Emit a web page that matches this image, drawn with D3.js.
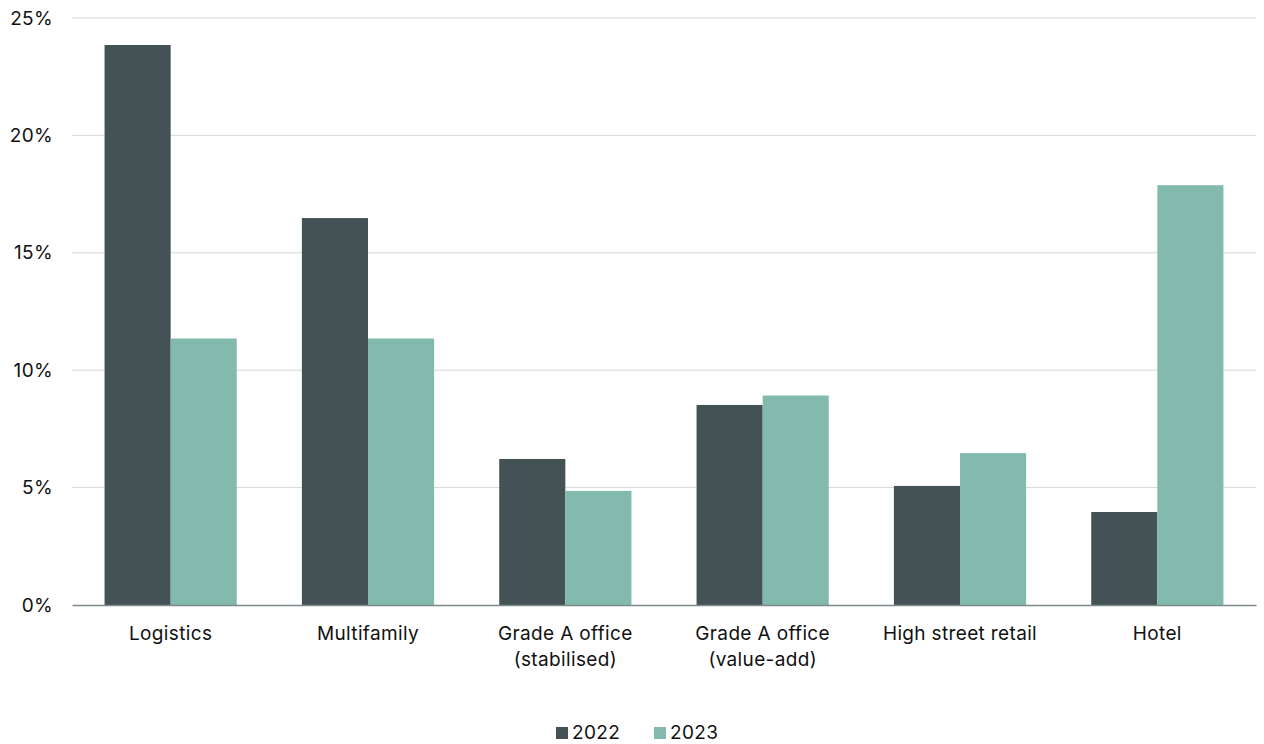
<!DOCTYPE html>
<html><head><meta charset="utf-8">
<script src="https://cdn.jsdelivr.net/npm/d3@7"></script>
<style>
html,body{margin:0;padding:0;background:#fff;}
svg{display:block;font-family:Inter,"Open Sans",sans-serif;}
</style></head>
<body>
<svg id="chart" width="1264" height="744"></svg>
<script>
const categories = [["Logistics"],["Multifamily"],["Grade A office","(stabilised)"],["Grade A office","(value-add)"],["High street retail"],["Hotel"]];
const series = ["2022","2023"];
const values2022 = [23.85, 16.48, 6.22, 8.52, 5.07, 3.96];
const values2023 = [11.35, 11.35, 4.86, 8.92, 6.47, 17.88];
const yTicks = [0,5,10,15,20,25];
const colors = ["#445256","#82bbad"];

const svg = d3.select("#chart");
const m = {left:72, right:1256, top:18, bottom:605};
const keys = categories.map(c=>c.join(" "));
const x = d3.scaleBand().domain(keys).range([m.left,m.right]).paddingInner(0.33).paddingOuter(0.165);
const x1 = d3.scaleBand().domain(series).range([0,x.bandwidth()]);
const y = d3.scaleLinear().domain([0,25]).range([m.bottom,m.top]);
const FS = "19px", LS = "0.35px";

// gridlines
svg.append("g").selectAll("line").data(yTicks.filter(d=>d>0)).join("line")
  .attr("x1",m.left).attr("x2",m.right)
  .attr("y1",d=>y(d)).attr("y2",d=>y(d))
  .attr("stroke","#d3d9da").attr("stroke-width",1);

// y labels
const ya = svg.append("g").attr("transform",`translate(${m.left},0)`)
  .call(d3.axisLeft(y).tickValues(yTicks).tickFormat(d=>d+"%").tickSize(0).tickPadding(19));
ya.select(".domain").remove();
ya.selectAll("text").attr("font-size",FS).attr("letter-spacing",LS).attr("fill","#111").attr("font-family","Inter,sans-serif");

// bars
const data = categories.map((c,i)=>({key:keys[i], vals:[values2022[i],values2023[i]]}));
const g = svg.append("g").selectAll("g").data(data).join("g")
  .attr("transform",d=>`translate(${x(d.key)},0)`);
g.selectAll("rect").data(d=>d.vals.map((v,j)=>({s:series[j],v,j}))).join("rect")
  .attr("x",d=>x1(d.s)).attr("width",x1.bandwidth())
  .attr("y",d=>y(d.v)).attr("height",d=>y(0)-y(d.v))
  .attr("fill",d=>colors[d.j]);

// x axis
const xa = svg.append("g").attr("transform",`translate(0,${m.bottom})`)
  .call(d3.axisBottom(x).tickSize(0).tickFormat(""));
xa.select(".domain").attr("stroke","#7d8a8c").attr("stroke-width",1.5);
xa.selectAll(".tick").each(function(d,i){
  const t = d3.select(this).append("text").attr("fill","#111").attr("font-size",FS)
    .attr("letter-spacing",LS).attr("text-anchor","middle").attr("font-family","Inter,sans-serif");
  categories[i].forEach((line,k)=>{
    t.append("tspan").attr("x",0).attr("y",35+k*26).text(line);
  });
});

// legend
const lg = svg.append("g");
const legX = [556, 654];
series.forEach((s,i)=>{
  lg.append("rect").attr("x",legX[i]).attr("y",727).attr("width",12).attr("height",12).attr("fill",colors[i]);
  lg.append("text").attr("x",legX[i]+16).attr("y",739).attr("font-size",FS).attr("letter-spacing",LS).attr("fill","#111").text(s);
});
</script>
</body></html>
